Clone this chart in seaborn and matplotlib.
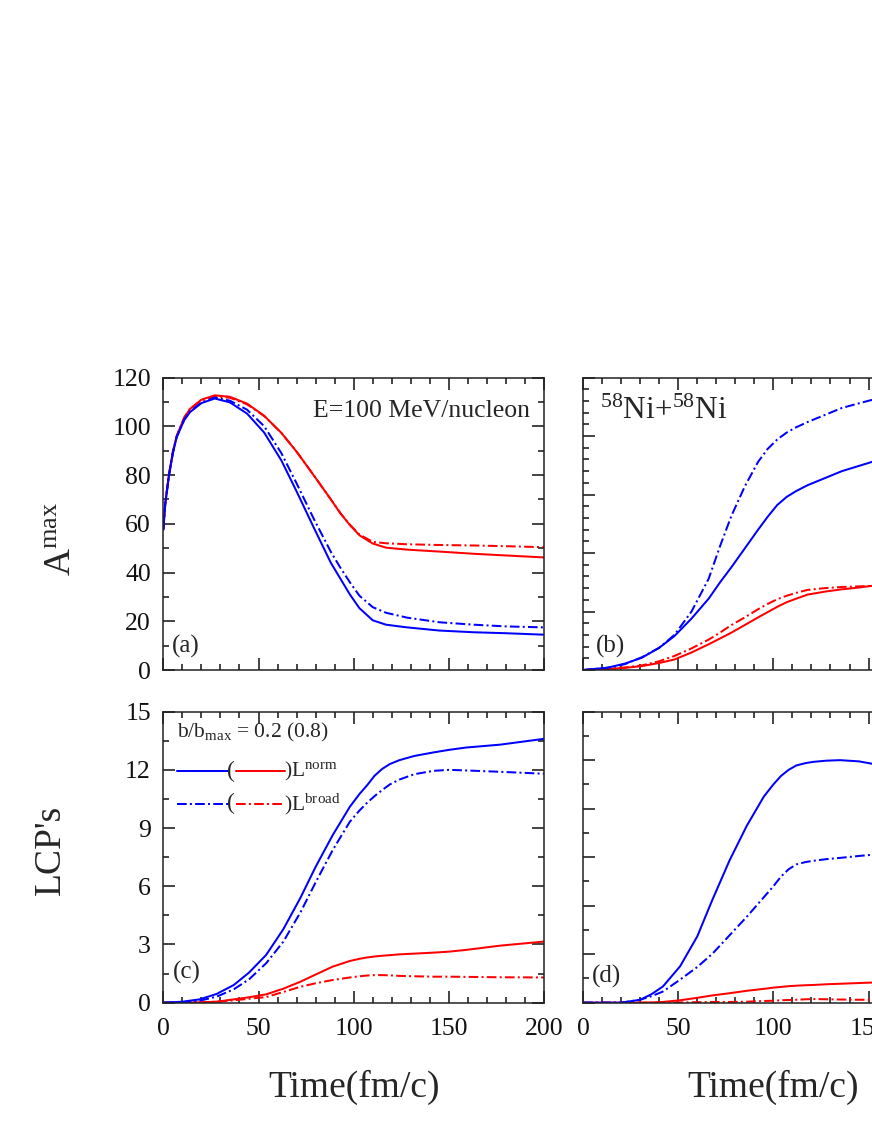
import matplotlib
matplotlib.use("Agg")
from matplotlib import pyplot as plt
from matplotlib.lines import Line2D
from matplotlib.ticker import MultipleLocator
import numpy as np
import pandas as pd
import seaborn as sns

# ---- data ----
# (a) A^max, b/bmax = 0.2
t_a = [0, 1, 3, 5, 7, 11, 14, 20, 27, 35, 44, 53, 62, 70, 79, 88, 93, 98, 103, 110, 117, 128, 145, 163, 180, 200]
a_blue_norm = [57.5, 68, 80, 89, 95.5, 102.6, 105.8, 109.5, 111.4, 109.8, 105.2, 97.4, 86, 73.3, 58.5,
               44, 37.5, 31, 25.4, 20.4, 18.6, 17.5, 16.2, 15.5, 15.1, 14.5]
a_blue_broad = [57.5, 68, 80, 89, 95.6, 102.8, 106.1, 109.7, 111.8, 110.5, 106.8, 100, 89, 76.6, 62.1,
                48.5, 42, 36, 30.5, 25.8, 23.5, 21.5, 19.6, 18.6, 17.9, 17.5]
a_red_norm = [58, 68.5, 80.5, 89.5, 96, 103.6, 107.1, 110.9, 112.7, 112.1, 109.3, 104.3, 97.3, 89.6, 79.9,
              70, 64.3, 59.5, 55.3, 51.9, 50.2, 49.4, 48.6, 47.7, 47, 46.2]
a_red_broad = [58, 68.5, 80.5, 89.5, 96, 103.6, 107.1, 110.7, 112.2, 111.7, 109, 104.2, 97.3, 89.6, 79.9,
               70, 64.4, 59.6, 55.6, 52.6, 52, 51.6, 51.3, 51.1, 50.8, 50.4]

# (b) A^max, b/bmax = 0.8 (own right-hand scale, cut off in the original)
t_b = [0, 13, 22, 31, 40, 48, 57, 66, 72, 78, 85, 92, 97, 102, 107, 112, 118, 127, 136, 145, 152, 160]
b_blue_norm = [0, 0.2, 0.55, 1.06, 1.9, 2.9, 4.4, 6.1, 7.5, 8.8, 10.4, 12.0, 13.1, 14.1, 14.8, 15.3,
               15.8, 16.4, 17.0, 17.45, 17.8, 18.1]
b_blue_broad = [0, 0.2, 0.5, 1.1, 1.9, 3.0, 5.0, 7.8, 10.6, 13.2, 15.7, 17.8, 18.9, 19.7, 20.3, 20.75,
                21.2, 21.8, 22.4, 22.8, 23.1, 23.4]
b_red_norm = [0, 0.08, 0.18, 0.34, 0.6, 0.9, 1.5, 2.2, 2.7, 3.2, 3.85, 4.5, 4.95, 5.4, 5.8, 6.1,
              6.45, 6.7, 6.9, 7.05, 7.2, 7.3]
b_red_broad = [0, 0.1, 0.22, 0.4, 0.75, 1.2, 1.85, 2.6, 3.2, 3.85, 4.5, 5.2, 5.65, 6.05, 6.35, 6.6,
               6.85, 7.0, 7.1, 7.15, 7.2, 7.25]

# (c) LCP's, b/bmax = 0.2
t_c = [0, 10, 19, 28, 37, 45, 54, 63, 72, 80, 89, 98, 103, 107, 111, 115, 119, 124, 132, 142, 150, 159, 177, 200]
c_blue_norm = [0, 0.05, 0.17, 0.45, 0.91, 1.55, 2.46, 3.78, 5.4, 7.0, 8.64, 10.1, 10.75, 11.2, 11.7, 12.05,
               12.3, 12.5, 12.72, 12.9, 13.03, 13.15, 13.3, 13.6]
c_blue_broad = [0, 0.02, 0.1, 0.31, 0.69, 1.2, 2.03, 3.14, 4.65, 6.2, 7.87, 9.33, 9.9, 10.3, 10.65, 10.96,
                11.25, 11.5, 11.78, 11.95, 12.0, 11.97, 11.9, 11.8]
c_red_norm = [0, 0, 0.02, 0.05, 0.17, 0.28, 0.43, 0.72, 1.08, 1.45, 1.86, 2.15, 2.26, 2.33, 2.38, 2.42,
              2.45, 2.49, 2.53, 2.58, 2.63, 2.72, 2.94, 3.15]
c_red_broad = [0, 0, 0.02, 0.05, 0.12, 0.2, 0.29, 0.55, 0.82, 1.0, 1.17, 1.3, 1.36, 1.4, 1.42, 1.42,
               1.41, 1.38, 1.36, 1.34, 1.34, 1.33, 1.31, 1.3]

# (d) LCP's, b/bmax = 0.8 (own right-hand scale, cut off in the original)
t_d = [0, 20, 30, 36, 42, 51, 60, 68, 77, 86, 95, 100, 104, 108, 112, 117, 121, 128, 135, 145, 152, 160]
d_blue_norm = [0, 0, 0.12, 0.35, 0.67, 1.5, 2.73, 4.25, 5.87, 7.29, 8.5, 9.0, 9.35, 9.6, 9.78, 9.88,
               9.93, 9.98, 10.0, 9.95, 9.85, 9.7]
d_blue_broad = [0, 0, 0.12, 0.27, 0.46, 0.95, 1.47, 2.02, 2.78, 3.54, 4.35, 4.8, 5.2, 5.5, 5.7, 5.8,
                5.85, 5.92, 5.97, 6.05, 6.1, 6.15]
d_red_norm = [0, 0, 0, 0.01, 0.03, 0.1, 0.2, 0.3, 0.39, 0.49, 0.57, 0.62, 0.65, 0.68, 0.7, 0.72,
              0.73, 0.76, 0.78, 0.81, 0.83, 0.85]
d_red_broad = [0, 0, 0, 0, 0, 0.01, 0.02, 0.03, 0.03, 0.04, 0.07, 0.08, 0.1, 0.11, 0.12, 0.14,
               0.15, 0.14, 0.13, 0.12, 0.12, 0.12]

sns.set_style("ticks")
plt.rcParams['font.family'] = ['Liberation Serif', 'DejaVu Serif']
plt.rcParams['mathtext.fontset'] = 'custom'
plt.rcParams['mathtext.rm'] = 'Liberation Serif'
plt.rcParams['mathtext.it'] = 'Liberation Serif:italic'
plt.rcParams['mathtext.bf'] = 'Liberation Serif:bold'

BLUE = "#0000ff"
RED = "#ff0000"
DASHDOT = (0, (4.8, 1.6, 1.0, 1.6))
LW = 1.45
TICK_FS = 18.5
LABEL_FS = 27

fig = plt.figure(figsize=(8.72, 11.28), dpi=100)
w, h = 0.4366, 0.2593
ax_a = fig.add_axes([0.1873, 0.4060, w, h])
ax_b = fig.add_axes([0.6686, 0.4060, w, h])
ax_c = fig.add_axes([0.1873, 0.1111, w, 0.258])
ax_d = fig.add_axes([0.6686, 0.1111, w, 0.258])


def draw(ax, t, bn, bb, rn, rb):
    df = pd.DataFrame({"t": t, "bn": bn, "bb": bb, "rn": rn, "rb": rb})
    sns.lineplot(data=df, x="t", y="rb", ax=ax, color=RED, lw=LW, linestyle=DASHDOT, errorbar=None)
    sns.lineplot(data=df, x="t", y="rn", ax=ax, color=RED, lw=LW, errorbar=None)
    sns.lineplot(data=df, x="t", y="bb", ax=ax, color=BLUE, lw=LW, linestyle=DASHDOT, errorbar=None)
    sns.lineplot(data=df, x="t", y="bn", ax=ax, color=BLUE, lw=LW, errorbar=None)
    ax.set_xlim(0, 200)
    ax.xaxis.set_major_locator(MultipleLocator(50))
    ax.xaxis.set_minor_locator(MultipleLocator(10))
    ax.set_xlabel("")
    ax.set_ylabel("")
    ax.tick_params(which="both", direction="in", top=True, right=True, width=1.1,
                   colors="#111111", labelsize=TICK_FS)
    ax.tick_params(which="major", length=8.5, pad=9)
    ax.tick_params(axis="x", which="major", pad=11)
    ax.tick_params(which="minor", length=4.3)
    for s in ax.spines.values():
        s.set_linewidth(1.1)
        s.set_color("#222222")


draw(ax_a, t_a, a_blue_norm, a_blue_broad, a_red_norm, a_red_broad)
draw(ax_b, t_b, b_blue_norm, b_blue_broad, b_red_norm, b_red_broad)
draw(ax_c, t_c, c_blue_norm, c_blue_broad, c_red_norm, c_red_broad)
draw(ax_d, t_d, d_blue_norm, d_blue_broad, d_red_norm, d_red_broad)

ax_a.set_ylim(0, 120)
ax_a.yaxis.set_major_locator(MultipleLocator(20))
ax_a.yaxis.set_minor_locator(MultipleLocator(10))
ax_b.set_ylim(0, 25)
ax_b.yaxis.set_major_locator(MultipleLocator(5))
ax_b.yaxis.set_minor_locator(MultipleLocator(1))
ax_c.set_ylim(0, 15)
ax_c.yaxis.set_major_locator(MultipleLocator(3))
ax_c.yaxis.set_minor_locator(MultipleLocator(1.5))
ax_d.set_ylim(0, 12)
ax_d.yaxis.set_major_locator(MultipleLocator(2))
ax_d.yaxis.set_minor_locator(MultipleLocator(1))

for ax in (ax_a, ax_b):
    ax.tick_params(labelbottom=False)
for ax in (ax_b, ax_d):
    ax.tick_params(labelleft=False)

for ax in (ax_c, ax_d):
    ax.set_xlabel("Time(fm/c)", fontsize=LABEL_FS)
    ax.xaxis.set_label_coords(0.5, -0.23)

ax_a.set_ylabel(r"A$^{\mathrm{max}}$", fontsize=LABEL_FS)
ax_a.yaxis.set_label_coords(-0.222, 0.45)
ax_c.set_ylabel("LCP's", fontsize=LABEL_FS)
ax_c.yaxis.set_label_coords(-0.25, 0.525)

# panel annotations
ax_a.text(0.963, 0.884, "E=100 MeV/nucleon", transform=ax_a.transAxes, ha="right", va="center",
          fontsize=18.5)
ax_b.text(0.044, 0.885, r"$^{58}$Ni+$^{58}$Ni", transform=ax_b.transAxes, ha="left", va="center",
          fontsize=22.5)
for ax, lab, (px, py) in ((ax_a, "(a)", (0.022, 0.08)), (ax_b, "(b)", (0.034, 0.082)),
                          (ax_c, "(c)", (0.026, 0.105)), (ax_d, "(d)", (0.024, 0.09))):
    ax.text(px, py, lab, transform=ax.transAxes, ha="left", va="center", fontsize=18)

# hand-made key in (c)
ax_c.text(0.037, 0.927, r"b/b$_{\mathrm{max}}$ = 0.2 (0.8)", transform=ax_c.transAxes,
          ha="left", va="center", fontsize=15.5)
for yk, ls, sup in ((0.796, "-", "norm"), (0.683, DASHDOT, "broad")):
    ax_c.add_line(Line2D([0.036, 0.171], [yk, yk], transform=ax_c.transAxes, color=BLUE, lw=LW, ls=ls))
    ax_c.text(0.167, yk, "(", transform=ax_c.transAxes, ha="left", va="center", fontsize=17)
    ax_c.add_line(Line2D([0.19, 0.32], [yk, yk], transform=ax_c.transAxes, color=RED, lw=LW, ls=ls))
    ax_c.text(0.318, yk, r")L$^{\mathrm{%s}}$" % sup, transform=ax_c.transAxes, ha="left",
              va="center", fontsize=15.5)

fig.savefig("out.png", dpi=100)
